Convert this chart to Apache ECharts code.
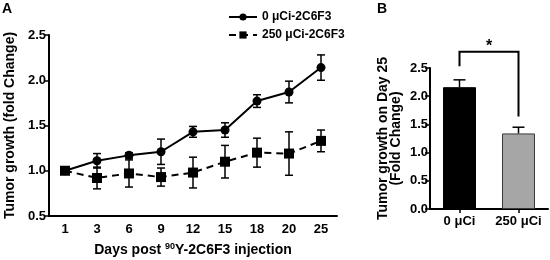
<!DOCTYPE html>
<html>
<head>
<meta charset="utf-8">
<script src="https://cdn.jsdelivr.net/npm/echarts@6/dist/echarts.min.js"></script>
<style>
html, body { margin: 0; padding: 0; background: #fff; }
#main { width: 550px; height: 260px; }
</style>
</head>
<body>
<div id="main"></div>
<script>
// panel A: tumor growth over time
var days = ['1', '3', '6', '9', '12', '15', '18', '20', '25'];
var ctrlMean = [1.00, 1.11, 1.17, 1.21, 1.43, 1.45, 1.77, 1.87, 2.14];
var ctrlErr = [0, 0.08, 0.03, 0.14, 0.06, 0.08, 0.07, 0.12, 0.14];
var treatMean = [1.00, 0.92, 0.97, 0.93, 0.98, 1.10, 1.20, 1.19, 1.33];
var treatErr = [0, 0.12, 0.15, 0.10, 0.17, 0.18, 0.16, 0.24, 0.12];
var seriesNames = ['0 μCi-2C6F3', '250 μCi-2C6F3'];

// panel B: day 25
var groups = ['0 μCi', '250 μCi'];
var day25Mean = [2.16, 1.34];
var day25Err = [0.13, 0.11];
var sigTop = 2.79;           // bracket height
var sigLegs = [2.53, 1.64];  // where each leg of the bracket ends

var FONT = 'Liberation Sans';
var chart = echarts.init(document.getElementById('main'));

function withErr(mean, err) {
  return mean.map(function (m, i) { return [i, m, err[i]]; });
}

// error bars drawn with the axis scales
function errBars(capHalf, upOnly) {
  return function (params, api) {
    var x = api.value(0), m = api.value(1), e = api.value(2);
    if (!e) return null;
    var top = api.coord([x, m + e]);
    var bot = api.coord([x, upOnly ? m : m - e]);
    var st = { stroke: '#000', lineWidth: 1.5 };
    var kids = [
      { type: 'line', shape: { x1: top[0], y1: top[1], x2: bot[0], y2: bot[1] }, style: st },
      { type: 'line', shape: { x1: top[0] - capHalf, y1: top[1], x2: top[0] + capHalf, y2: top[1] }, style: st }
    ];
    if (!upOnly) {
      kids.push({ type: 'line', shape: { x1: bot[0] - capHalf, y1: bot[1], x2: bot[0] + capHalf, y2: bot[1] }, style: st });
    }
    return { type: 'group', children: kids };
  };
}

var axisLine = { show: true, lineStyle: { color: '#000', width: 2 } };
var tickLbl = { color: '#000', fontFamily: FONT, fontWeight: 'bold', fontSize: 13 };
var nameStyle = { color: '#000', fontFamily: FONT, fontWeight: 'bold', fontSize: 14 };

chart.setOption({
  animation: false,
  backgroundColor: '#fff',
  title: [
    { text: 'A', left: 2, top: 2, padding: 0, textStyle: { fontFamily: FONT, fontWeight: 'bold', fontSize: 14, color: '#000' } },
    { text: 'B', left: 377, top: 2, padding: 0, textStyle: { fontFamily: FONT, fontWeight: 'bold', fontSize: 14, color: '#000' } }
  ],
  legend: {
    data: seriesNames,
    orient: 'vertical',
    left: 228,
    top: 11,
    padding: 0,
    itemWidth: 28,
    itemHeight: 9,
    itemGap: 6,
    textStyle: { color: '#000', fontFamily: FONT, fontWeight: 'bold', fontSize: 12 }
  },
  grid: [
    { left: 49, top: 35, width: 288, height: 181, outerBoundsMode: 'none' },
    { left: 430, top: 68, width: 118, height: 141, outerBoundsMode: 'none' }
  ],
  xAxis: [
    {
      gridIndex: 0, type: 'category', data: days, boundaryGap: true,
      axisLine: axisLine, axisTick: { show: false },
      axisLabel: Object.assign({ margin: 7, interval: 0 }, tickLbl),
      name: 'Days post {sup|90}Y-2C6F3 injection',
      nameLocation: 'middle', nameGap: 26,
      nameTextStyle: Object.assign({
        rich: { sup: { fontSize: 9, fontWeight: 'bold', fontFamily: FONT, color: '#000', verticalAlign: 'top', lineHeight: 16 } },
        lineHeight: 16
      }, nameStyle)
    },
    {
      gridIndex: 1, type: 'category', data: groups, boundaryGap: true,
      axisLine: axisLine,
      axisTick: { show: true, alignWithLabel: true, interval: 0, length: 4, lineStyle: { color: '#000', width: 1.5 } },
      axisLabel: Object.assign({ margin: 6, interval: 0, hideOverlap: false }, tickLbl)
    }
  ],
  yAxis: [
    {
      gridIndex: 0, type: 'value', min: 0.5, max: 2.5, interval: 0.5,
      axisLine: axisLine,
      axisTick: { show: true, length: 5, lineStyle: { color: '#000', width: 1.5 } },
      splitLine: { show: false },
      axisLabel: Object.assign({ margin: 3, formatter: function (v) { return v.toFixed(1); } }, tickLbl),
      name: 'Tumor growth (fold Change)',
      nameLocation: 'middle', nameGap: 32, nameTextStyle: nameStyle
    },
    {
      gridIndex: 1, type: 'value', min: 0, max: 2.5, interval: 0.5,
      axisLine: axisLine,
      axisTick: { show: true, length: 5, lineStyle: { color: '#000', width: 1.5 } },
      splitLine: { show: false },
      axisLabel: Object.assign({ margin: 2, formatter: function (v) { return v.toFixed(1); } }, tickLbl),
      name: 'Tumor growth on Day 25\n(Fold Change)',
      nameLocation: 'middle', nameGap: 27,
      nameTextStyle: Object.assign({ lineHeight: 13 }, nameStyle)
    }
  ],
  series: [
    {
      name: seriesNames[0], type: 'line', xAxisIndex: 0, yAxisIndex: 0,
      data: ctrlMean, symbol: 'circle', symbolSize: 9,
      lineStyle: { color: '#000', width: 2 },
      itemStyle: { color: '#000' }, z: 3
    },
    {
      name: seriesNames[1], type: 'line', xAxisIndex: 0, yAxisIndex: 0,
      data: treatMean, symbol: 'rect', symbolSize: 10,
      lineStyle: { color: '#000', width: 2, type: [7, 5] },
      itemStyle: { color: '#000' }, z: 3
    },
    {
      type: 'custom', xAxisIndex: 0, yAxisIndex: 0, z: 4,
      renderItem: errBars(4, false), data: withErr(ctrlMean, ctrlErr)
    },
    {
      type: 'custom', xAxisIndex: 0, yAxisIndex: 0, z: 4,
      renderItem: errBars(4, false), data: withErr(treatMean, treatErr)
    },
    {
      type: 'bar', xAxisIndex: 1, yAxisIndex: 1, barWidth: 33,
      data: [
        { value: day25Mean[0], itemStyle: { color: '#000', borderColor: '#000', borderWidth: 1 } },
        { value: day25Mean[1], itemStyle: { color: '#a6a6a6', borderColor: '#3a3a3a', borderWidth: 1 } }
      ]
    },
    {
      type: 'custom', xAxisIndex: 1, yAxisIndex: 1, z: 4,
      renderItem: errBars(6, true), data: withErr(day25Mean, day25Err)
    },
    {
      type: 'custom', xAxisIndex: 1, yAxisIndex: 1, z: 4, clip: false,
      data: [[0, sigTop]],
      renderItem: function (params, api) {
        var a = api.coord([0, sigLegs[0]]);
        var b = api.coord([1, sigLegs[1]]);
        var t0 = api.coord([0, sigTop]);
        var t1 = api.coord([1, sigTop]);
        return {
          type: 'group', children: [
            { type: 'polyline', shape: { points: [a, t0, t1, b] }, style: { stroke: '#000', lineWidth: 2, fill: null } },
            { type: 'text', x: (t0[0] + t1[0]) / 2, y: t0[1] + 3,
              style: { text: '*', fontFamily: FONT, fontWeight: 'bold', fontSize: 16, fill: '#000', align: 'center', verticalAlign: 'bottom' } }
          ]
        };
      }
    }
  ]
});
</script>
</body>
</html>
